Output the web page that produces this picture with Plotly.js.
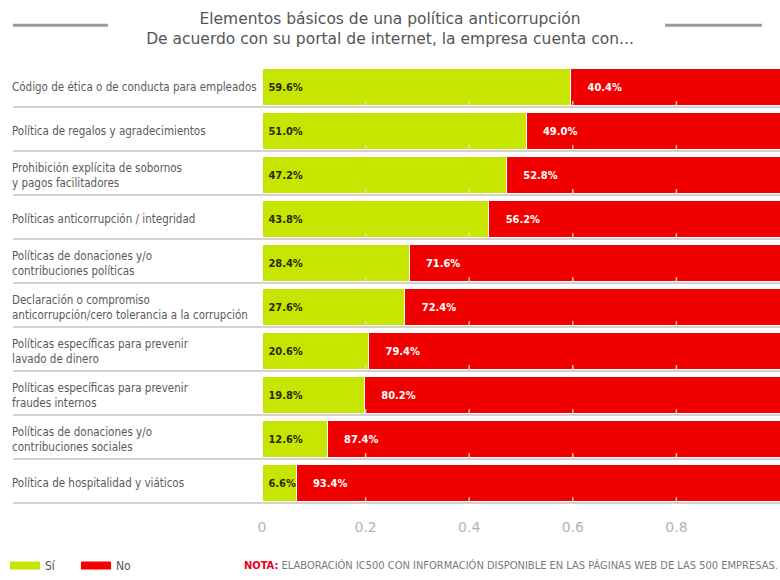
<!DOCTYPE html>
<html>
<head>
<meta charset="utf-8">
<script src="https://cdn.plot.ly/plotly-3.0.1.min.js"></script>
<style>html,body{margin:0;padding:0;background:#fff;}#chart{width:780px;height:580px;}</style>
</head>
<body>
<div id="chart"></div>
<script>
// ---- data ----
const categories = [
  "Código de ética o de conducta para empleados",
  "Política de regalos y agradecimientos",
  "Prohibición explícita de sobornos<br>y pagos facilitadores",
  "Políticas anticorrupción / integridad",
  "Políticas de donaciones y/o<br>contribuciones políticas",
  "Declaración o compromiso<br>anticorrupción/cero tolerancia a la corrupción",
  "Políticas específicas para prevenir<br>lavado de dinero",
  "Políticas específicas para prevenir<br>fraudes internos",
  "Políticas de donaciones y/o<br>contribuciones sociales",
  "Política de hospitalidad y viáticos"
];
const siPct = [59.6, 51.0, 47.2, 43.8, 28.4, 27.6, 20.6, 19.8, 12.6, 6.6];
const noPct = [40.4, 49.0, 52.8, 56.2, 71.6, 72.4, 79.4, 80.2, 87.4, 93.4];
const seriesNames = ["Sí", "No"];
const tickValues = [0, 0.2, 0.4, 0.6, 0.8];
const tickLabels = ["0", "0.2", "0.4", "0.6", "0.8"];
const titleLines = ["Elementos básicos de una política anticorrupción",
                    "De acuerdo con su portal de internet, la empresa cuenta con..."];
const noteLabel = "NOTA:";
const noteText = " ELABORACIÓN IC500 CON INFORMACIÓN DISPONIBLE EN LAS PÁGINAS WEB DE LAS 500 EMPRESAS.";

// ---- style ----
const GREEN = "#c6e500";
const RED = "#f10000";
const NARROW = "'DejaVu Sans Condensed', 'Liberation Sans Narrow', sans-serif";
const ROUND = "'DejaVu Sans', 'Noto Sans', sans-serif";
const ids = categories.map((c, i) => i);
const BARW = 0.86;
const NB = "\u00a0";

const traces = [
  {
    type: "bar", orientation: "h", name: seriesNames[0], showlegend: false,
    y: ids, x: siPct.map(v => v / 100), width: BARW,
    marker: {color: GREEN, line: {color: "#ffffff", width: 1}},
    text: siPct.map(v => NB + v.toFixed(1) + "%"),
    textposition: "inside", insidetextanchor: "start", constraintext: "none", textangle: 0,
    insidetextfont: {family: NARROW, size: 11, color: "#2b2b10", weight: 700},
    hoverinfo: "skip"
  },
  {
    type: "bar", orientation: "h", name: seriesNames[1], showlegend: false,
    y: ids, x: noPct.map(v => v / 100), width: BARW,
    marker: {color: RED, line: {color: "#ffffff", width: 1}},
    text: noPct.map(v => NB.repeat(4) + v.toFixed(1) + "%"),
    textposition: "inside", insidetextanchor: "start", constraintext: "none", textangle: 0,
    insidetextfont: {family: NARROW, size: 11, color: "#ffffff", weight: 700},
    hoverinfo: "skip"
  },
  // legend entries (wide swatches)
  {type: "scatter", mode: "lines", name: seriesNames[0], x: [null], y: [null],
   line: {color: GREEN, width: 8}, showlegend: true, hoverinfo: "skip"},
  {type: "scatter", mode: "lines", name: seriesNames[1], x: [null], y: [null],
   line: {color: RED, width: 8}, showlegend: true, hoverinfo: "skip"}
];

const L = 262, W = 518, T = 65, H = 443;
const px = p => (p - L) / W;          // pixel x -> paper x
const py = p => 1 - (p - T) / H;      // pixel y -> paper y

const shapes = [];
// decorative title rules
shapes.push({type: "line", xref: "paper", yref: "paper", x0: px(13), x1: px(108), y0: py(25), y1: py(25),
             line: {color: "#9a9a9a", width: 3}});
shapes.push({type: "line", xref: "paper", yref: "paper", x0: px(665), x1: px(762), y0: py(25), y1: py(25),
             line: {color: "#9a9a9a", width: 3}});
// row separators and small inner ticks
ids.forEach(i => {
  shapes.push({type: "line", xref: "paper", yref: "y", x0: px(13), x1: 1, y0: i + BARW / 2 + 0.025, y1: i + BARW / 2 + 0.025,
               line: {color: "#d2d2d2", width: 2}, layer: "below"});
  tickValues.slice(1).forEach(t => {
    shapes.push({type: "line", xref: "x", yref: "y", x0: t, x1: t, y0: i + BARW / 2, y1: i + BARW / 2 - 0.11,
                 line: {color: "rgba(225,225,225,0.85)", width: 1.5}, layer: "above"});
  });
});

const annotations = categories.map((c, i) => ({
  xref: "paper", yref: "y", x: px(10), y: i, xanchor: "left", yanchor: "middle", align: "left",
  text: c, showarrow: false, font: {family: NARROW, size: 11.5, color: "#5a5a5a"}
}));
annotations.push({
  xref: "paper", yref: "paper", x: px(242), y: py(569), xanchor: "left", yanchor: "middle", showarrow: false,
  text: "<span style='color:#e8001c;font-weight:bold'>" + noteLabel + "</span>" + noteText,
  font: {family: NARROW, size: 11, color: "#7a7a7a"}
});

const layout = {
  width: 780, height: 580,
  margin: {l: L, r: 780 - L - W, t: T, b: 580 - T - H, pad: 0},
  paper_bgcolor: "#ffffff", plot_bgcolor: "#ffffff",
  barmode: "stack", bargap: 0.14,
  title: {
    text: titleLines.join("<br>"),
    font: {family: ROUND, size: 15.5, color: "#555555"},
    x: 0.5, xref: "container", xanchor: "center",
    y: 1 - 23.5 / 580, yref: "container", yanchor: "top"
  },
  xaxis: {
    range: [0, 1], tickvals: tickValues, ticktext: tickLabels,
    showgrid: false, zeroline: false, showline: false, ticks: "",
    tickfont: {family: ROUND, size: 14, color: "#b4b4b4"}, ticklabelstandoff: 12,
    fixedrange: true
  },
  yaxis: {
    range: [categories.length - 0.5, -0.5], showticklabels: false, showgrid: false,
    zeroline: false, showline: false, ticks: "", fixedrange: true
  },
  showlegend: true,
  legend: {
    orientation: "h", traceorder: "normal", x: px(5), xanchor: "left", y: py(569), yanchor: "middle",
    font: {family: NARROW, size: 12, color: "#555555"}, bgcolor: "rgba(0,0,0,0)",
    entrywidth: 26
  },
  shapes: shapes,
  annotations: annotations
};

Plotly.newPlot("chart", traces, layout, {displayModeBar: false, staticPlot: true});
</script>
</body>
</html>
